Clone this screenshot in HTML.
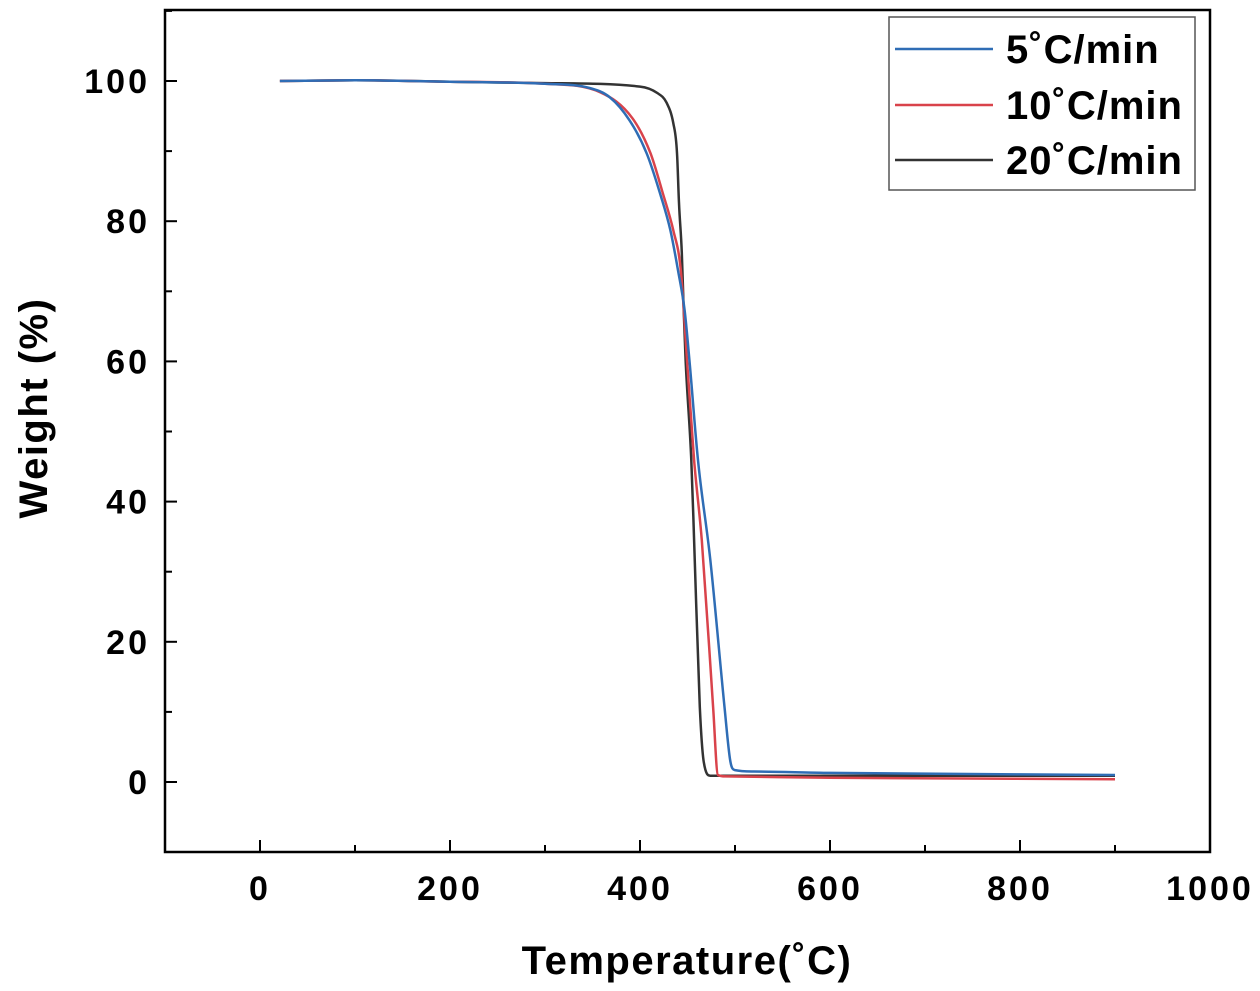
<!DOCTYPE html>
<html><head><meta charset="utf-8"><style>
body{margin:0;background:#fff;}
svg{display:block;font-family:"Liberation Sans",Arial,sans-serif;font-weight:bold;}
</style></head><body>
<svg id="chart" width="1260" height="991" viewBox="0 0 1260 991">
<g id="axes"></g>
<g id="series"></g>
<rect x="165" y="10" width="1045" height="842" fill="none" stroke="#000" stroke-width="2.5"/>
<text x="47" y="408" font-size="40" letter-spacing="1.5" text-anchor="middle" transform="rotate(-90 47 408)">Weight (%)</text>
<text x="687" y="974" font-size="40" letter-spacing="1.5" text-anchor="middle">Temperature(˚C)</text>
<g>
<rect x="889" y="17" width="306" height="173" fill="#fff" stroke="#555" stroke-width="1.5"/>
<line x1="895" y1="49" x2="993" y2="49" stroke="#2f6db5" stroke-width="2.5"/>
<text x="1006" y="63" font-size="40" letter-spacing="1">5˚C/min</text>
<line x1="895" y1="105" x2="993" y2="105" stroke="#d9434b" stroke-width="2.5"/>
<text x="1006" y="119" font-size="40" letter-spacing="1">10˚C/min</text>
<line x1="895" y1="160" x2="993" y2="160" stroke="#333" stroke-width="2.5"/>
<text x="1006" y="174" font-size="40" letter-spacing="1">20˚C/min</text>
</g>
</svg>
<script>
const xTicks=[0,200,400,600,800,1000];
const yTicks=[0,20,40,60,80,100];
const tBlue=[21,100,200,300,347,368,389,407,421,432,440,447,452,461,474,489,495,500,520,600,900];
const wBlue=[100,100.1,99.9,99.6,99.0,97.7,94.4,89.7,84.0,78.7,73.0,67.3,60.2,45.9,31.7,10.7,3,1.7,1.5,1.3,1.0];
const tRed=[21,100,200,300,358,392,411,424,435,443,449.5,457,465,477,482,490,600,900];
const wRed=[100,100.1,99.9,99.6,98.4,94.7,89.7,84.0,78.7,73.0,60.2,45.9,34.5,10.7,1.0,0.8,0.6,0.4];
const tBlack=[21,100,200,300,400,418,428,435,439,441,444,446,448,454,457,463,467,474,600,900];
const wBlack=[100,100.1,99.9,99.7,99.2,98.3,96.9,94,89.7,82.6,75.5,67.3,60.2,45.9,34.5,10.7,3,0.9,0.9,0.9];
const X=v=>260+v*0.95, Y=v=>782-v*7.01;
const NS="http://www.w3.org/2000/svg";
const axes=document.getElementById('axes'), ser=document.getElementById('series');
function mk(tag,attrs,parent){const e=document.createElementNS(NS,tag);for(const k in attrs)e.setAttribute(k,attrs[k]);parent.appendChild(e);return e;}
xTicks.forEach(v=>{
  const l=mk('line',{x1:X(v),x2:X(v),y1:852,y2:840,stroke:'#000','stroke-width':2},axes);
  
  
  const m=mk('line',{x1:X(v+100),x2:X(v+100),y1:852,y2:845,stroke:'#000','stroke-width':2},axes);
  
  
  const t=mk('text',{x:X(v),y:900,'font-size':34,'letter-spacing':3,'text-anchor':'middle'},axes);t.textContent=v;
  
  
});
yTicks.forEach(v=>{
  const l=mk('line',{x1:165,x2:177,y1:Y(v),y2:Y(v),stroke:'#000','stroke-width':2},axes);
  
  
  const m=mk('line',{x1:165,x2:172,y1:Y(v+10),y2:Y(v+10),stroke:'#000','stroke-width':2},axes);
  
  
  const t=mk('text',{x:150,y:Y(v)+12,'font-size':34,'letter-spacing':3,'text-anchor':'end'},axes);t.textContent=v;
  
  
});
function monoPath(xs,ys){
  const n=xs.length,d=[],m=[];
  for(let i=0;i<n-1;i++)d.push((ys[i+1]-ys[i])/(xs[i+1]-xs[i]));
  m[0]=d[0];m[n-1]=d[n-2];
  for(let i=1;i<n-1;i++){m[i]=(d[i-1]*d[i]<=0)?0:(d[i-1]+d[i])/2;}
  for(let i=0;i<n-1;i++){if(d[i]===0){m[i]=0;m[i+1]=0;continue;}
    const a=m[i]/d[i],b=m[i+1]/d[i],s=a*a+b*b;if(s>9){const t=3/Math.sqrt(s);m[i]=t*a*d[i];m[i+1]=t*b*d[i];}}
  let p='M'+xs[0].toFixed(1)+' '+ys[0].toFixed(1);
  for(let i=0;i<n-1;i++){const h=(xs[i+1]-xs[i])/3;
    p+=' C'+(xs[i]+h).toFixed(1)+' '+(ys[i]+m[i]*h).toFixed(1)+' '+(xs[i+1]-h).toFixed(1)+' '+(ys[i+1]-m[i+1]*h).toFixed(1)+' '+xs[i+1].toFixed(1)+' '+ys[i+1].toFixed(1);}
  return p;
}
function line(ts,ws,color,name){
  const d=monoPath(ts.map(X),ws.map(Y));
  const p=mk('path',{d:d,fill:'none',stroke:color,'stroke-width':2.5,'stroke-linejoin':'round'},ser);
  
  
}
line(tBlack,wBlack,'#333','series-20c-min');
line(tRed,wRed,'#d9434b','series-10c-min');
line(tBlue,wBlue,'#2f6db5','series-5c-min');
</script>
</body></html>
